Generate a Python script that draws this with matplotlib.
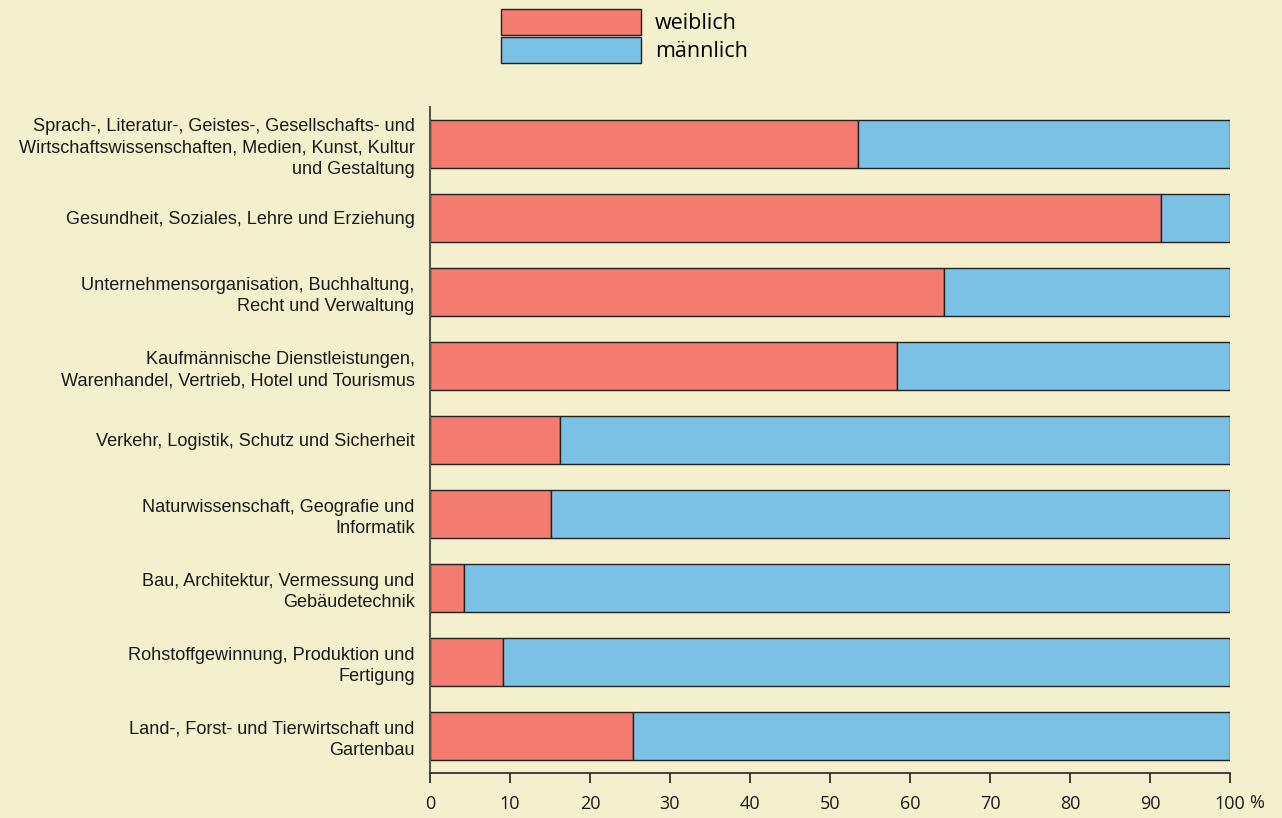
import numpy as np
import matplotlib.pyplot as plt

# Berufsbereiche (von oben nach unten)
bereiche = [
    "Sprach-, Literatur-, Geistes-, Gesellschafts- und\nWirtschaftswissenschaften, Medien, Kunst, Kultur\nund Gestaltung",
    "Gesundheit, Soziales, Lehre und Erziehung",
    "Unternehmensorganisation, Buchhaltung,\nRecht und Verwaltung",
    "Kaufmännische Dienstleistungen,\nWarenhandel, Vertrieb, Hotel und Tourismus",
    "Verkehr, Logistik, Schutz und Sicherheit",
    "Naturwissenschaft, Geografie und\nInformatik",
    "Bau, Architektur, Vermessung und\nGebäudetechnik",
    "Rohstoffgewinnung, Produktion und\nFertigung",
    "Land-, Forst- und Tierwirtschaft und\nGartenbau",
]
weiblich = np.array([53.5, 91.4, 64.3, 58.4, 16.3, 15.1, 4.3, 9.1, 25.4])
maennlich = 100 - weiblich
xticks = [0, 10, 20, 30, 40, 50, 60, 70, 80, 90, 100]

bg = '#f4efcd'
rot = '#f47b70'
blau = '#7bc1e6'
kante = '#222222'

W, H = 1282, 818
fig = plt.figure(figsize=(W / 100, H / 100), dpi=100, facecolor=bg)
ax = fig.add_axes([430 / W, (H - 773) / H, 800 / W, 666 / H])
ax.set_facecolor(bg)

y = np.arange(len(bereiche))
b1 = ax.barh(y, weiblich, height=0.66, color=rot, edgecolor=kante,
             linewidth=1.0, label='weiblich')
b2 = ax.barh(y, maennlich, left=weiblich, height=0.66, color=blau,
             edgecolor=kante, linewidth=1.0, label='männlich')

ax.set_ylim(len(bereiche) - 0.5, -0.5)
ax.set_xlim(0, 100)
ax.set_yticks(y)
ax.set_yticklabels(bereiche, fontsize=13.1, family='Liberation Sans',
                   color='#1a1a1a', linespacing=1.33)
ax.tick_params(axis='y', length=0, pad=11)
ax.set_xticks(xticks)
ax.set_xticklabels([str(v) for v in xticks], fontsize=13,
                   family='Open Sans', color='#1a1a1a')
ax.tick_params(axis='x', length=7, width=1.2, color='#222222', pad=9,
               direction='out')
ax.text(1.0 + 27 / 800, -30 / 666, '%', transform=ax.transAxes,
        fontsize=13, family='Open Sans', color='#1a1a1a',
        ha='center', va='center')

for s in ['top', 'right']:
    ax.spines[s].set_visible(False)
ax.spines['left'].set_color('#555555')
ax.spines['left'].set_linewidth(1.5)
ax.spines['bottom'].set_color('#222222')
ax.spines['bottom'].set_linewidth(1.2)

leg = fig.legend(handles=[b1, b2], labels=['weiblich', 'männlich'],
                 loc='upper left', bbox_to_anchor=(499 / W, 1 - 7 / H),
                 frameon=False, prop={'family': 'Open Sans', 'size': 15.5},
                 handlelength=6.5, handleheight=1.48, labelspacing=0.08,
                 handletextpad=0.65, borderpad=0.1, borderaxespad=0)

fig.savefig('out.png', dpi=100, facecolor=bg)
